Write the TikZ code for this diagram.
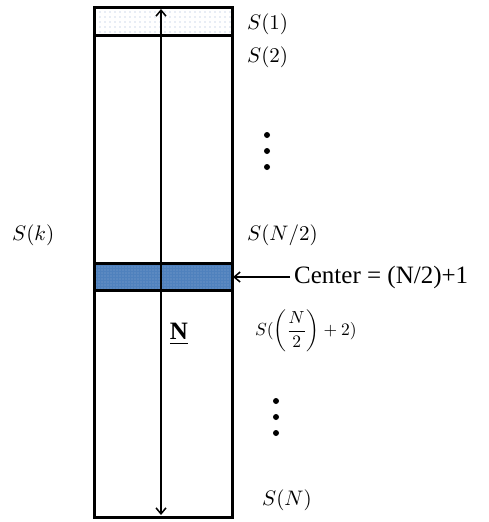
\documentclass[tikz,border=0pt]{standalone}
\usepackage{graphicx}
\usepackage{fontspec}
\setmainfont{Liberation Serif}
\usepackage{amsmath}
\usetikzlibrary{arrows.meta,patterns.meta}
\definecolor{bandblue}{HTML}{4F81BD}
\definecolor{dotgray}{HTML}{9DB4D6}
\newcommand{\biglab}[1]{\scalebox{2.1}{#1}}
\tikzset{
  frame/.style={line width=3pt},
  sep/.style={line width=3pt},
  slabel/.style={anchor=west, inner sep=0pt},
  vdot/.style={circle, fill=black, inner sep=0pt, minimum size=6pt},
  midarrow/.style={line width=1.5pt, {Straight Barb[length=6pt,width=10pt]}-{Straight Barb[length=6pt,width=10pt]}},
  ptr/.style={line width=1.5pt, -{Straight Barb[length=6pt,width=10pt]}},
}
\begin{document}
\begin{tikzpicture}[x=1pt,y=-1pt]
\useasboundingbox (0,0) rectangle (488,522);
% bands
\fill[white] (94,7) rectangle (232,35);
\fill[pattern={Dots[distance=5pt,radius=0.6pt]}, pattern color=dotgray] (94,7) rectangle (232,35);
\fill[bandblue] (94,263) rectangle (232,290);
\fill[pattern={Dots[distance=3pt,radius=0.45pt]}, pattern color=white!85!bandblue] (94,263) rectangle (232,290);
% frame
\draw[frame] (94,7) rectangle (232,517);
\draw[sep] (94,35) -- (232,35);
\draw[sep] (94,263) -- (232,263);
\draw[sep] (94,290) -- (232,290);
% central arrow
\coordinate (atop) at (161,9);
\coordinate (abot) at (161,515);
\draw[midarrow] (atop) -- (abot);
\node[font=\fontsize{25}{28}\selectfont\bfseries] (N) at (179,334) {\underline{N}};
% labels
\node[slabel] (s1) at (247,24) {\biglab{$S(1)$}};
\node[slabel] (s2) at (247,57) {\biglab{$S(2)$}};
\node[vdot] (d1) at (267,135) {};
\node[vdot] (d2) at (267,151) {};
\node[vdot] (d3) at (267,167) {};
\node[slabel] (sn2) at (247,235) {\biglab{$S(N/2)$}};
\node[slabel] (sk) at (12,235) {\biglab{$S(k)$}};
\node[slabel] (sn22) at (255,331) {\scalebox{1.75}{$S(\left(\dfrac{N}{2}\right)+2)$}};
\node[vdot] (e1) at (276,401) {};
\node[vdot] (e2) at (276,417) {};
\node[vdot] (e3) at (276,433) {};
\node[slabel] (sN) at (262,500) {\biglab{$S(N)$}};
% center pointer
\node[anchor=west, inner sep=0pt, font=\fontsize{25}{28}\selectfont] (ctr) at (294,277) {Center = (N/2)+1};
\coordinate (rside) at (233,277);
\draw[ptr] (ctr.west) ++(-4,0) -- (rside);
\end{tikzpicture}
\end{document}
